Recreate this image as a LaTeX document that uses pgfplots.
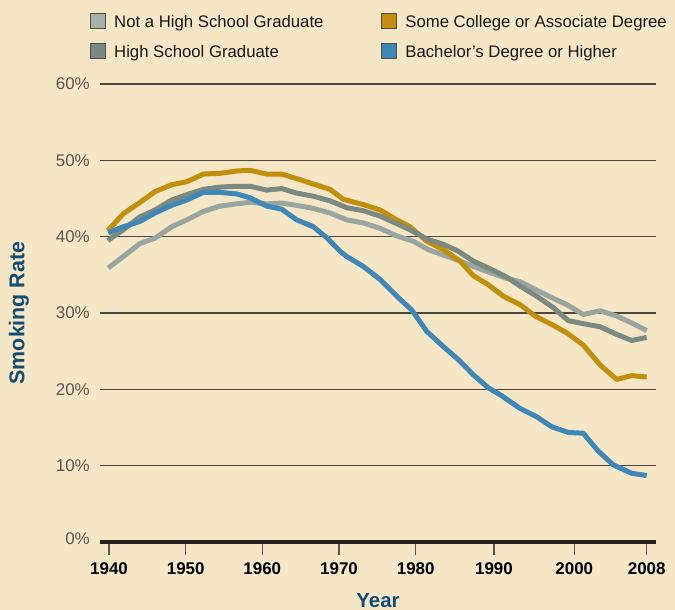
\documentclass[border=0pt]{standalone}
\usepackage{fontspec}
\setmainfont{Liberation Sans}
\usepackage{pgfplots}
\pgfplotsset{compat=1.18}
\definecolor{bg}{RGB}{245,230,198}
\definecolor{cLight}{RGB}{152,166,159}
\definecolor{cDark}{RGB}{122,137,130}
\definecolor{cGold}{RGB}{193,143,12}
\definecolor{cBlue}{RGB}{62,135,182}
\definecolor{sqLight}{RGB}{167,177,171}
\definecolor{sqDark}{RGB}{124,137,131}
\definecolor{labBlue}{RGB}{16,78,118}
\definecolor{gridc}{RGB}{75,70,62}
\definecolor{axisc}{RGB}{35,31,28}
\definecolor{tickc}{RGB}{85,85,80}
\definecolor{ytl}{RGB}{90,86,82}
\definecolor{sqborder}{RGB}{80,78,72}

\begin{document}
\begin{tikzpicture}
\useasboundingbox (0,0) rectangle (675bp,610bp);
\fill[bg] (0,0) rectangle (675bp,610bp);
\begin{axis}[
  at={(100bp,68bp)}, anchor=south west,
  width=556bp, height=458bp, scale only axis,
  xmin=1938.86, xmax=2009.18, ymin=0, ymax=60,
  axis x line*=bottom, axis y line*=left,
  y axis line style={draw=none},
  x axis line style={line width=4.5bp, color=axisc},
  xtick={1940,1949.70,1959.39,1969.09,1978.79,1988.69,1998.85,2008},
  xticklabels={1940,1950,1960,1970,1980,1990,2000,2008},
  ytick={0,10,20,30,40,50,60},
  yticklabels={\raisebox{6bp}{0\%},10\%,20\%,30\%,40\%,50\%,60\%},
  xtick align=outside, ytick align=inside,
  major tick length=13bp,
  xtick style={line width=1.5bp, color=tickc},
  ytick style={draw=none},
  ymajorgrids, grid style={line width=1.5bp, color=gridc},
  xticklabel style={font=\fontsize{17}{20}\selectfont\bfseries, text=black, yshift=-4bp},
  yticklabel style={font=\fontsize{17}{20}\selectfont, text=ytl, anchor=east, inner sep=0pt, xshift=-10bp},
  xlabel={Year}, ylabel={Smoking Rate},
  xlabel style={at={(axis description cs:0.5,-0.127)}, anchor=center, font=\fontsize{20.5}{24}\selectfont\bfseries, text=labBlue},
  ylabel style={at={(axis description cs:-0.1457,0.5)}, anchor=center, font=\fontsize{21.5}{25}\selectfont\bfseries, text=labBlue},
  legend cell align=left,
  legend columns=2,
  legend style={at={(axis description cs:-0.018,1.155)}, anchor=north west, draw=none, fill=none,
    inner sep=0pt, outer sep=0pt, nodes={inner sep=0pt},
    font=\fontsize{16.8}{20.2}\selectfont, text=black!90, row sep=13.6bp,
    /tikz/every odd column/.style={column sep=8bp},
    /tikz/every even column/.style={column sep=0bp}},
  every axis plot/.append style={line width=5bp, line join=round},
]
\addplot[color=cLight, mark=none,
  legend image code/.code={\filldraw[fill=sqLight,draw=sqborder,line width=1.2bp] (0bp,-7.5bp) rectangle (15bp,7.5bp);}]
coordinates {
(1939.91,35.9) (1941.81,37.4) (1943.92,39.1) (1945.82,39.8) (1947.93,41.3) (1949.83,42.2)
(1951.93,43.3) (1954.04,44.0) (1956.15,44.3) (1957.83,44.5) (1959.94,44.3) (1961.84,44.4)
(1963.74,44.1) (1965.84,43.7) (1967.95,43.1) (1970.06,42.2) (1972.16,41.8) (1974.27,41.1)
(1976.39,40.1) (1978.49,39.4) (1980.38,38.3) (1982.28,37.6) (1984.39,36.8) (1986.07,36.1)
(1988.19,35.3) (1990.08,34.6) (1991.98,34.1) (1993.88,33.1) (1995.99,32.0) (1997.89,31.1)
(1999.98,29.8) (2002.10,30.3) (2004.21,29.6) (2006.11,28.7) (2008,27.7)
};
\addlegendentry{\makebox[267bp][l]{Not a High School Graduate\strut}}
\addplot[color=cGold, mark=none,
  legend image code/.code={\filldraw[fill=cGold,draw=sqborder,line width=1.2bp] (0bp,-7.5bp) rectangle (15bp,7.5bp);}]
coordinates {
(1939.84,40.8) (1941.81,43.0) (1943.92,44.5) (1945.82,45.9) (1947.93,46.8) (1949.83,47.2)
(1951.93,48.2) (1954.04,48.3) (1956.15,48.6) (1957.83,48.7) (1959.94,48.2) (1961.84,48.2)
(1963.74,47.6) (1965.84,46.9) (1967.95,46.2) (1969.63,44.9) (1972.16,44.2) (1974.27,43.5)
(1976.39,42.2) (1978.07,41.3) (1980.18,39.4) (1982.28,38.3) (1984.39,36.8) (1986.07,34.9)
(1987.97,33.7) (1989.87,32.2) (1991.98,31.1) (1993.88,29.6) (1995.99,28.5) (1997.89,27.4)
(1999.98,25.8) (2002.10,23.2) (2004.21,21.3) (2006.11,21.8) (2008,21.6)
};
\addlegendentry{Some College or Associate Degree\strut}
\addplot[color=cDark, mark=none,
  legend image code/.code={\filldraw[fill=sqDark,draw=sqborder,line width=1.2bp] (0bp,-7.5bp) rectangle (15bp,7.5bp);}]
coordinates {
(1939.84,39.5) (1941.81,40.9) (1943.92,42.6) (1945.82,43.5) (1947.93,44.8) (1949.83,45.5)
(1951.93,46.2) (1954.04,46.5) (1956.15,46.6) (1957.83,46.6) (1959.94,46.1) (1961.84,46.3)
(1963.74,45.7) (1965.84,45.3) (1967.95,44.7) (1970.06,43.8) (1972.16,43.4) (1974.27,42.7)
(1976.39,41.7) (1978.07,40.9) (1980.18,39.7) (1982.28,39.0) (1984.18,38.1) (1986.07,36.8)
(1987.97,35.9) (1990.30,34.7) (1992.19,33.4) (1994.09,32.2) (1996.19,30.7) (1998.09,29.0)
(1999.98,28.6) (2002.10,28.2) (2004.21,27.2) (2006.11,26.4) (2008,26.8)
};
\addlegendentry{\makebox[267bp][l]{High School Graduate\strut}}
\addplot[color=cBlue, mark=none,
  legend image code/.code={\filldraw[fill=cBlue,draw=sqborder,line width=1.2bp] (0bp,-7.5bp) rectangle (15bp,7.5bp);}]
coordinates {
(1939.91,40.5) (1941.81,41.3) (1943.92,42.0) (1945.82,43.1) (1947.93,44.1) (1949.83,44.8)
(1951.93,45.8) (1954.04,45.8) (1956.15,45.6) (1957.83,45.1) (1959.94,44.0) (1961.84,43.6)
(1963.74,42.2) (1965.84,41.3) (1967.60,39.8) (1969.21,38.1) (1970.06,37.4) (1972.16,36.1)
(1974.27,34.4) (1976.39,32.2) (1978.28,30.4) (1980.18,27.6) (1982.28,25.6) (1984.18,23.9)
(1986.07,21.9) (1987.97,20.2) (1989.60,19.2) (1991.98,17.5) (1994.09,16.4) (1995.99,15.1)
(1998.09,14.35) (1999.98,14.25) (2001.88,11.9) (2003.78,10.1) (2006.11,9.0) (2008,8.7)
};
\addlegendentry{Bachelor's Degree or Higher\strut}
\end{axis}
\end{tikzpicture}
\end{document}
